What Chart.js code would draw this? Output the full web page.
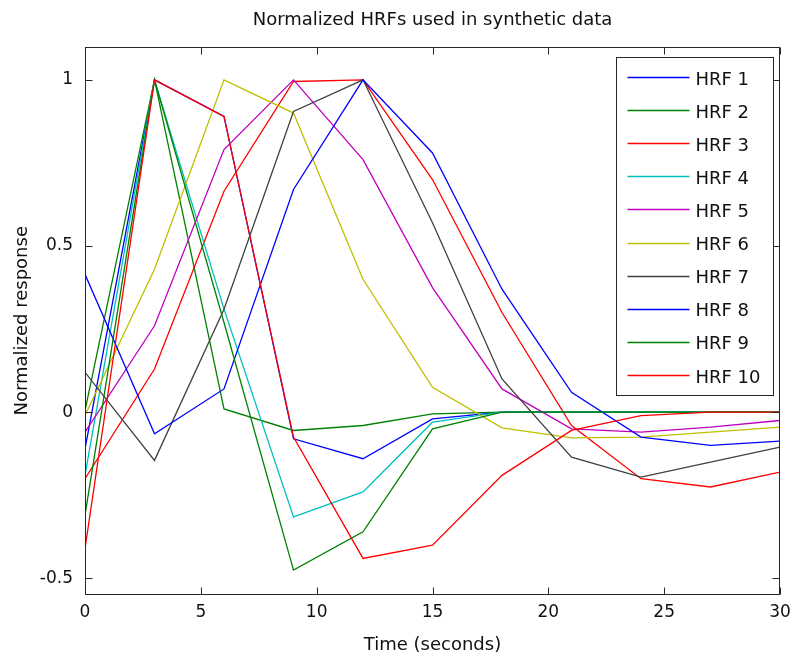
<!DOCTYPE html>
<html>
<head>
<meta charset="utf-8">
<script src="https://cdn.jsdelivr.net/npm/chart.js@4.4.1/dist/chart.umd.min.js"></script>
<style>
html,body{margin:0;padding:0;background:#fff;}
#wrap{width:794px;height:660px;}
</style>
</head>
<body>
<div id="wrap"><canvas id="c" width="794" height="660"></canvas></div>
<script>
// ---- data ----
const timeSec = [0, 3, 6, 9, 12, 15, 18, 21, 24, 27, 30];
const hrf1  = [-0.11, 1.00, 0.89, -0.08, -0.14, -0.02, 0.00, 0.00, 0.00, 0.00, 0.00];
const hrf2  = [0.005, 1.00, 0.01, -0.055, -0.04, -0.005, 0.00, 0.00, 0.00, 0.00, 0.00];
const hrf3  = [-0.20, 0.13, 0.665, 0.995, 1.00, 0.70, 0.30, -0.04, -0.20, -0.225, -0.18];
const hrf4  = [-0.19, 1.00, 0.31, -0.315, -0.24, -0.03, 0.00, 0.00, 0.00, 0.00, 0.00];
const hrf5  = [-0.06, 0.26, 0.79, 1.00, 0.76, 0.375, 0.07, -0.05, -0.06, -0.045, -0.025];
const hrf6  = [-0.01, 0.43, 1.00, 0.90, 0.40, 0.075, -0.047, -0.077, -0.075, -0.06, -0.045];
const hrf7  = [0.12, -0.145, 0.31, 0.905, 1.00, 0.57, 0.10, -0.135, -0.195, -0.15, -0.105];
const hrf8  = [0.415, -0.065, 0.07, 0.67, 1.00, 0.78, 0.37, 0.06, -0.075, -0.10, -0.087];
const hrf9  = [-0.31, 1.00, 0.27, -0.475, -0.36, -0.05, 0.00, 0.00, 0.00, 0.00, 0.00];
const hrf10 = [-0.41, 1.00, 0.89, -0.075, -0.44, -0.40, -0.19, -0.055, -0.01, 0.00, 0.00];

const seriesValues = [hrf1, hrf2, hrf3, hrf4, hrf5, hrf6, hrf7, hrf8, hrf9, hrf10];
const seriesLabels = ['HRF 1','HRF 2','HRF 3','HRF 4','HRF 5','HRF 6','HRF 7','HRF 8','HRF 9','HRF 10'];
const seriesColors = ['#0000ff','#008000','#ff0000','#00bfbf','#bf00bf','#bfbf00','#404040','#0000ff','#008000','#ff0000'];

const xTickValues = [0, 5, 10, 15, 20, 25, 30];
const yTickValues = [-0.5, 0, 0.5, 1];
const yTickLabels = ['-0.5', '0', '0.5', '1'];

const titleText = 'Normalized HRFs used in synthetic data';
const xTitle = 'Time (seconds)';
const yTitle = 'Normalized response';

// ---- styling ----
const FONT = 'DejaVu Sans, Liberation Sans, Arial, sans-serif';
const TXT = '#111111';
const AXC = '#262626';

const datasets = seriesValues.map((vals, i) => ({
  label: seriesLabels[i],
  data: vals.map((v, k) => ({x: timeSec[k], y: v})),
  borderColor: seriesColors[i],
  backgroundColor: seriesColors[i],
  borderWidth: 1.3,
  pointRadius: 0,
  tension: 0,
  fill: false,
  order: seriesValues.length - i
}));

const framePlugin = {
  id: 'frameAndLegend',
  afterDatasetsDraw(chart) {
    const ctx = chart.ctx;
    const a = chart.chartArea;
    const xs = chart.scales.x, ys = chart.scales.y;
    ctx.save();
    ctx.strokeStyle = AXC;
    ctx.lineWidth = 1;
    const L = Math.round(a.left) + 0.5, R = Math.round(a.right) - 0.5;
    const T = Math.round(a.top) + 0.5, B = Math.round(a.bottom) - 0.5;
    ctx.strokeRect(L, T, R - L, B - T);
    const TL = 7;
    ctx.beginPath();
    xs.ticks.forEach(t => {
      const px = Math.round(xs.getPixelForValue(t.value)) + 0.5;
      ctx.moveTo(px, B); ctx.lineTo(px, B - TL);
      ctx.moveTo(px, T); ctx.lineTo(px, T + TL);
    });
    ys.ticks.forEach(t => {
      const py = Math.round(ys.getPixelForValue(t.value)) + 0.5;
      ctx.moveTo(L, py); ctx.lineTo(L + TL, py);
      ctx.moveTo(R, py); ctx.lineTo(R - TL, py);
    });
    ctx.stroke();

    // legend box
    const bw = 157, bh = 338;
    const bx = Math.round(a.right - 7 - bw) + 0.5;
    const by = Math.round(a.top + 10) + 0.5;
    ctx.fillStyle = '#ffffff';
    ctx.fillRect(bx, by, bw, bh);
    ctx.strokeStyle = AXC;
    ctx.strokeRect(bx, by, bw, bh);
    const rowH = 33.1;
    ctx.font = '18px ' + FONT;
    ctx.textBaseline = 'middle';
    ctx.textAlign = 'left';
    seriesLabels.forEach((lab, i) => {
      const yy = by + 19.5 + i * rowH;
      ctx.strokeStyle = seriesColors[i];
      ctx.lineWidth = 1.3;
      ctx.beginPath();
      ctx.moveTo(bx + 11, Math.round(yy) + 0.5);
      ctx.lineTo(bx + 73, Math.round(yy) + 0.5);
      ctx.stroke();
      ctx.fillStyle = TXT;
      ctx.fillText(lab, bx + 79, yy + 3);
    });
    ctx.restore();
  }
};

new Chart(document.getElementById('c'), {
  type: 'line',
  data: { datasets },
  options: {
    responsive: false,
    animation: false,
    devicePixelRatio: 1,
    layout: { padding: { left: 0, right: 14, top: 0, bottom: 0 } },
    plugins: {
      legend: { display: false },
      tooltip: { enabled: false },
      title: {
        display: true,
        text: titleText,
        fullSize: false,
        color: TXT,
        font: { family: FONT, size: 18, weight: 'normal' },
        padding: { top: 10, bottom: 15 }
      }
    },
    scales: {
      x: {
        type: 'linear',
        min: 0, max: 30,
        afterBuildTicks: s => { s.ticks = xTickValues.map(v => ({ value: v })); },
        afterFit: s => { s.height = 65; s.paddingLeft = 0; s.paddingRight = 0; },
        grid: { display: false, drawTicks: false },
        border: { display: false },
        ticks: {
          color: TXT, padding: 7, maxRotation: 0, autoSkip: false,
          font: { family: FONT, size: 17 },
          callback: v => String(v)
        },
        title: {
          display: true, text: xTitle, color: TXT,
          font: { family: FONT, size: 18 },
          padding: { top: 0, bottom: 4 }
        }
      },
      y: {
        type: 'linear',
        min: -0.55, max: 1.1,
        afterBuildTicks: s => { s.ticks = yTickValues.map(v => ({ value: v })); },
        afterFit: s => { s.width = 85; s.paddingTop = 0; s.paddingBottom = 0; },
        grid: { display: false, drawTicks: false },
        border: { display: false },
        ticks: {
          color: TXT, padding: 12, autoSkip: false,
          font: { family: FONT, size: 17 },
          callback: v => yTickLabels[yTickValues.indexOf(v)] ?? String(v)
        },
        title: {
          display: true, text: yTitle, color: TXT,
          font: { family: FONT, size: 18 },
          padding: { top: 12, bottom: 0 }
        }
      }
    }
  },
  plugins: [framePlugin]
});
</script>
</body>
</html>
